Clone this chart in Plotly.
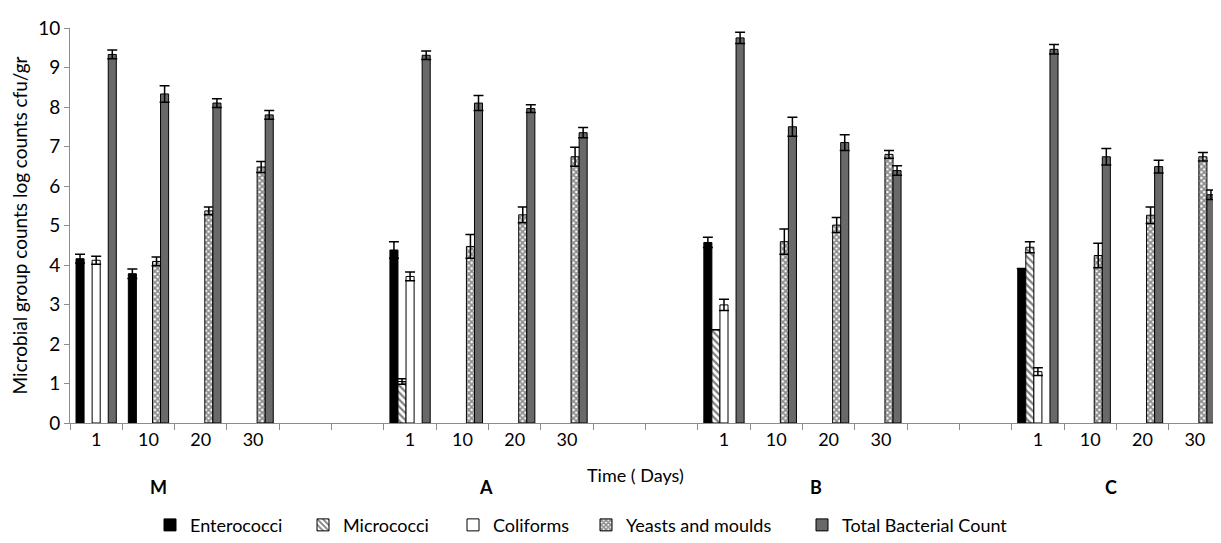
import plotly.graph_objects as go

groups = ["M", "A", "B", "C"]
days = ["1", "10", "20", "30"]

# values in order M1, M10, M20, M30, A1, ..., C30
enterococci = [4.16, 3.78, None, None, 4.38, None, None, None, 4.57, None, None, None, 3.91, None, None, None]
enterococci_err = [0.11, 0.12, None, None, 0.21, None, None, None, 0.13, None, None, None, None, None, None, None]
micrococci = [None, None, None, None, 1.05, None, None, None, 2.36, None, None, None, 4.45, None, None, None]
micrococci_err = [None, None, None, None, 0.07, None, None, None, None, None, None, None, 0.14, None, None, None]
coliforms = [4.12, None, None, None, 3.71, None, None, None, 2.99, None, None, None, 1.30, None, None, None]
coliforms_err = [0.10, None, None, None, 0.11, None, None, None, 0.14, None, None, None, 0.10, None, None, None]
yeasts = [None, 4.09, 5.37, 6.48, None, 4.47, 5.27, 6.74, None, 4.59, 5.01, 6.80, None, 4.24, 5.26, 6.74]
yeasts_err = [None, 0.11, 0.10, 0.14, None, 0.30, 0.20, 0.24, None, 0.32, 0.19, 0.10, None, 0.31, 0.21, 0.11]
tbc = [9.33, 8.33, 8.10, 7.80, 9.31, 8.10, 7.96, 7.35, 9.75, 7.50, 7.10, 6.39, 9.46, 6.74, 6.49, 5.78]
tbc_err = [0.11, 0.21, 0.11, 0.11, 0.11, 0.19, 0.10, 0.13, 0.14, 0.24, 0.20, 0.12, 0.12, 0.21, 0.16, 0.12]

# category layout: 4 days per group, two empty slots between groups
all_cats, tick_text, blank_cats, data_cats = [], [], [], []
for gi, g in enumerate(groups):
    for d in days:
        c = f"{g}|{d}"
        all_cats.append(c); tick_text.append(d); data_cats.append(c)
    if gi < len(groups) - 1:
        for k in range(2):
            c = f"gap{gi}_{k}"
            all_cats.append(c); tick_text.append(""); blank_cats.append(c)

FONT = "Lato"
W, H = 1221, 543
ML, MR, MT, MB = 62, 8, 16, 125
line = dict(color="black", width=1)

def err(arr):
    return dict(type="data", array=[v if v is not None else float("nan") for v in arr],
                visible=True, color="black", thickness=1.5, width=5)

fig = go.Figure()
fig.add_trace(go.Bar(name="Enterococci", x=data_cats, y=enterococci, error_y=err(enterococci_err),
                     marker=dict(color="black", line=line), legend="legend"))
fig.add_trace(go.Bar(name="Micrococci", x=data_cats, y=micrococci, error_y=err(micrococci_err),
                     marker=dict(color="white", line=line,
                                 pattern=dict(shape="\\", fgcolor="black", bgcolor="white", size=5, solidity=0.45)),
                     legend="legend2"))
fig.add_trace(go.Bar(name="Coliforms", x=data_cats, y=coliforms, error_y=err(coliforms_err),
                     marker=dict(color="white", line=line), legend="legend3"))
fig.add_trace(go.Bar(name="Yeasts and moulds", x=data_cats, y=yeasts, error_y=err(yeasts_err),
                     marker=dict(color="white", line=line,
                                 pattern=dict(shape="x", fgcolor="#1a1a1a", bgcolor="white", size=4, solidity=0.7)),
                     legend="legend4"))
fig.add_trace(go.Bar(name="Total Bacterial Count", x=data_cats, y=tbc, error_y=err(tbc_err),
                     marker=dict(color="#696969", line=line), legend="legend5"))
fig.add_trace(go.Scatter(x=blank_cats, y=[0] * len(blank_cats), mode="markers",
                         marker=dict(opacity=0), showlegend=False, hoverinfo="skip"))

# legend entries placed individually (pixel position of swatch)
plot_w = W - ML - MR
legend_px = [162, 315, 465, 598, 814]
legend_y = -(522 - (H - MB)) / (H - MT - MB)
leg_layout = {}
for i, px in enumerate(legend_px):
    key = "legend" if i == 0 else f"legend{i + 1}"
    leg_layout[key] = dict(x=(px - 20 - ML) / plot_w, xanchor="left", y=legend_y, yanchor="middle",
                           orientation="h", font=dict(size=18), itemwidth=30, bgcolor="rgba(0,0,0,0)")

fig.update_layout(
    width=W, height=H,
    margin=dict(l=ML, r=MR, t=MT, b=MB),
    plot_bgcolor="white", paper_bgcolor="white",
    barmode="group", bargap=0.23, bargroupgap=0,
    font=dict(family=FONT, size=17, color="black"),
    showlegend=True,
    **leg_layout,
)
fig.update_xaxes(type="category", categoryorder="array", categoryarray=all_cats,
                 tickmode="array", tickvals=all_cats, ticktext=tick_text,
                 tickson="boundaries", ticks="outside", ticklen=6, tickcolor="#8c8c8c",
                 showline=True, linecolor="#8c8c8c", linewidth=1, showgrid=False,
                 tickfont=dict(size=18), range=[-0.5, len(all_cats) - 0.5])
fig.update_yaxes(range=[0, 10], dtick=1, ticks="outside", ticklen=5, tickcolor="#8c8c8c",
                 showline=True, linecolor="#8c8c8c", linewidth=1, showgrid=False, zeroline=False,
                 tickfont=dict(size=19),
                 title=dict(text="Microbial group counts log counts cfu/gr", font=dict(size=19), standoff=6))

# group labels
group_pos = {"M": 1.2, "A": 7.45, "B": 13.75, "C": 19.4}
for g in groups:
    fig.add_annotation(text=f"<b>{g}</b>", x=group_pos[g], xref="x", y=-0.195, yref="paper",
                       showarrow=False, font=dict(size=18))
fig.add_annotation(text="Time ( Days)", x=10.3, xref="x", y=-0.165, yref="paper",
                   showarrow=False, font=dict(size=18))

fig.write_html("out.html")
